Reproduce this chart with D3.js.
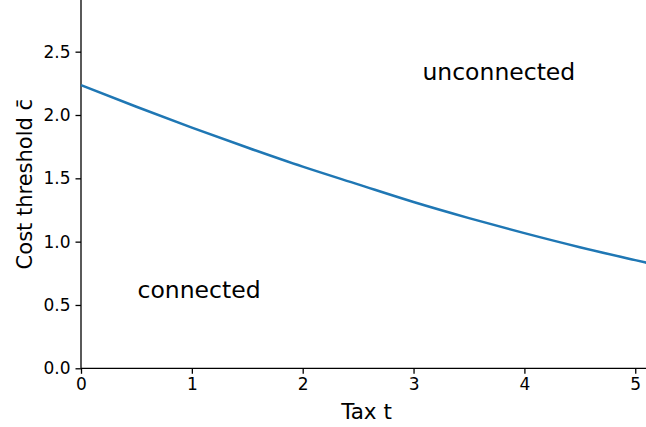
<!DOCTYPE html>
<html>
<head>
<meta charset="utf-8">
<script src="https://cdn.jsdelivr.net/npm/d3@7"></script>
<style>
  html, body { margin: 0; padding: 0; background: #fff; }
  svg { display: block; }
  text { font-family: "DejaVu Sans", sans-serif; fill: #000; }
</style>
</head>
<body>
<svg id="chart" width="646" height="427"></svg>
<script>
// Data
const taxValues = [0, 0.5, 1, 1.5, 2, 2.5, 3, 3.5, 4, 4.5, 5, 5.1];
const thresholdValues = [2.236, 2.065, 1.900, 1.743, 1.592, 1.452, 1.313, 1.186, 1.067, 0.956, 0.854, 0.834];
const xTicks = [0, 1, 2, 3, 4, 5];
const yTicks = [0, 0.5, 1.0, 1.5, 2.0, 2.5];
const regionLabels = [
  { text: "unconnected", t: 3.08, c: 2.28 },
  { text: "connected", t: 0.51, c: 0.553 }
];

(function () {
const svg = d3.select("#chart");
const mLeft = 81, mRight = 646, mTop = 0, mBottom = 368.3;

const x = d3.scaleLinear().domain([0, 5.097]).range([mLeft, mRight]);
const y = d3.scaleLinear().domain([0, 2.908]).range([mBottom, mTop]);

const tickFont = 17;

const xAxis = svg.append("g")
  .attr("transform", `translate(0,${mBottom})`)
  .call(d3.axisBottom(x).tickValues(xTicks).tickFormat(d3.format("d")).tickSize(5.5).tickPadding(4));
const yAxis = svg.append("g")
  .attr("transform", `translate(${mLeft},0)`)
  .call(d3.axisLeft(y).tickValues(yTicks).tickFormat(d3.format(".1f")).tickSize(5.5).tickPadding(5));

[xAxis, yAxis].forEach(g => {
  g.select(".domain").attr("stroke", "#000").attr("stroke-width", 1.3);
  g.selectAll(".tick line").attr("stroke", "#000").attr("stroke-width", 1.3);
  g.selectAll(".tick text")
    .attr("font-family", "DejaVu Sans, sans-serif")
    .attr("font-size", tickFont)
    .attr("fill", "#000");
});
xAxis.select(".domain").attr("d", `M${mLeft},0H${mRight}`);
yAxis.select(".domain").attr("d", `M0,${mBottom}V${mTop}`);

const pts = taxValues.map((t, i) => [t, thresholdValues[i]]);
svg.append("path")
  .datum(pts)
  .attr("fill", "none")
  .attr("stroke", "#1f77b4")
  .attr("stroke-width", 2.5)
  .attr("d", d3.line().x(d => x(d[0])).y(d => y(d[1])).curve(d3.curveMonotoneX));

svg.selectAll(".region")
  .data(regionLabels)
  .enter().append("text")
  .attr("class", "region")
  .attr("x", d => x(d.t))
  .attr("y", d => y(d.c))
  .attr("font-size", 23.5)
  .text(d => d.text);

svg.append("text")
  .attr("x", (mLeft + mRight) / 2 + 3)
  .attr("y", 418.5)
  .attr("text-anchor", "middle")
  .attr("font-size", 21.5)
  .text("Tax t");

svg.append("text")
  .attr("transform", `translate(31.5,${(mTop + mBottom) / 2}) rotate(-90)`)
  .attr("text-anchor", "middle")
  .attr("font-size", 21)
  .text("Cost threshold c\u0304");
})();
</script>
</body>
</html>
